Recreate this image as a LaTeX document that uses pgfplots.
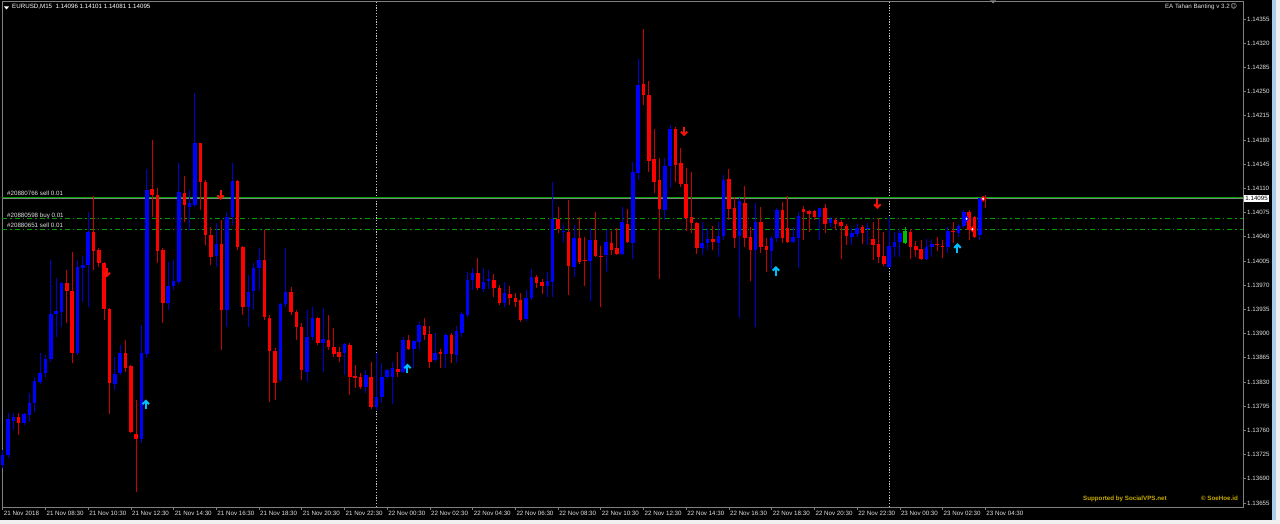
\documentclass[border=0pt]{standalone}
\usepackage{pgfplots}
\pgfplotsset{compat=1.18}
\usepackage{pgfplotstable}
\usepackage{fontspec}
\setmainfont{Liberation Sans}
\newfontfamily\djv{DejaVu Sans}

\definecolor{upc}{RGB}{0,0,255}
\definecolor{dnc}{RGB}{255,0,0}
\definecolor{upw}{RGB}{0,0,210}
\definecolor{dnw}{RGB}{205,0,0}
\definecolor{grc}{RGB}{0,190,0}
\definecolor{frame}{RGB}{128,128,128}
\definecolor{ordg}{RGB}{0,160,0}
\definecolor{sigred}{RGB}{240,20,10}
\definecolor{sigcyan}{RGB}{0,190,255}
\definecolor{lbl}{RGB}{225,225,225}
\definecolor{gold}{RGB}{200,170,0}
\definecolor{sepc}{RGB}{200,200,200}
\definecolor{edgeblue}{RGB}{170,205,235}
\definecolor{edgegray}{RGB}{240,240,240}

\newcommand\mt{\fontsize{6.2pt}{7pt}\selectfont}

% M15 candles, 21 Nov 06:30 ... 23 Nov 04:30; k: 1 up, -1 down, 0 odd green one
\pgfplotstableread{
i k o h l c
0 1 1.13710 1.13732 1.13706 1.13724
1 1 1.13724 1.13785 1.13720 1.13776
2 1 1.13774 1.13785 1.13761 1.13779
3 -1 1.13779 1.13785 1.13753 1.13771
4 1 1.13771 1.13785 1.13768 1.13784
5 1 1.13782 1.13814 1.13772 1.13800
6 1 1.13800 1.13837 1.13787 1.13831
7 1 1.13830 1.13872 1.13827 1.13843
8 1 1.13843 1.13869 1.13837 1.13863
9 1 1.13863 1.14006 1.13859 1.13928
10 1 1.13928 1.13980 1.13895 1.13933
11 1 1.13931 1.13975 1.13910 1.13973
12 -1 1.13973 1.13992 1.13915 1.13962
13 -1 1.13962 1.14018 1.13857 1.13872
14 1 1.13872 1.14006 1.13869 1.13996
15 1 1.13995 1.14012 1.13946 1.13999
16 1 1.13999 1.14076 1.13938 1.14047
17 -1 1.14047 1.14099 1.13992 1.14019
18 -1 1.14021 1.14024 1.13996 1.14002
19 -1 1.14002 1.14004 1.13920 1.13936
20 -1 1.13936 1.13937 1.13784 1.13829
21 1 1.13827 1.13866 1.13818 1.13842
22 1 1.13843 1.13884 1.13840 1.13872
23 -1 1.13872 1.13891 1.13844 1.13850
24 -1 1.13853 1.13855 1.13756 1.13758
25 -1 1.13755 1.13804 1.13671 1.13748
26 1 1.13748 1.13912 1.13742 1.13872
27 1 1.13871 1.14138 1.13865 1.14108
28 -1 1.14109 1.14180 1.14069 1.14100
29 -1 1.14100 1.14111 1.14002 1.14019
30 -1 1.14021 1.14024 1.13915 1.13944
31 1 1.13944 1.14004 1.13934 1.13969
32 1 1.13969 1.14006 1.13963 1.13976
33 1 1.13975 1.14147 1.13972 1.14105
34 -1 1.14103 1.14128 1.14061 1.14086
35 1 1.14083 1.14108 1.14050 1.14089
36 1 1.14086 1.14248 1.14083 1.14176
37 -1 1.14176 1.14176 1.14079 1.14119
38 -1 1.14119 1.14122 1.14028 1.14043
39 -1 1.14043 1.14054 1.13999 1.14011
40 1 1.14012 1.14060 1.13996 1.14030
41 -1 1.14030 1.14064 1.13876 1.13934
42 1 1.13934 1.14076 1.13910 1.14069
43 1 1.14069 1.14147 1.14057 1.14121
44 -1 1.14121 1.14122 1.14021 1.14025
45 -1 1.14025 1.14027 1.13927 1.13938
46 1 1.13938 1.13985 1.13910 1.13960
47 1 1.13962 1.14002 1.13934 1.13995
48 1 1.13995 1.14024 1.13963 1.14006
49 -1 1.14006 1.14050 1.13920 1.13924
50 -1 1.13923 1.13927 1.13801 1.13875
51 -1 1.13875 1.13879 1.13804 1.13829
52 1 1.13833 1.13944 1.13830 1.13943
53 1 1.13943 1.14024 1.13938 1.13960
54 -1 1.13960 1.13967 1.13927 1.13931
55 -1 1.13931 1.13934 1.13891 1.13910
56 -1 1.13910 1.13915 1.13833 1.13847
57 1 1.13844 1.13934 1.13830 1.13895
58 1 1.13895 1.13938 1.13891 1.13923
59 -1 1.13923 1.13924 1.13884 1.13886
60 1 1.13886 1.13937 1.13844 1.13892
61 -1 1.13891 1.13927 1.13876 1.13881
62 -1 1.13881 1.13908 1.13866 1.13871
63 -1 1.13873 1.13881 1.13859 1.13866
64 1 1.13872 1.13886 1.13840 1.13885
65 -1 1.13884 1.13886 1.13811 1.13837
66 -1 1.13839 1.13855 1.13821 1.13836
67 -1 1.13837 1.13843 1.13820 1.13823
68 1 1.13823 1.13847 1.13814 1.13840
69 -1 1.13837 1.13859 1.13791 1.13794
70 1 1.13794 1.13872 1.13790 1.13808
71 1 1.13808 1.13857 1.13800 1.13837
72 1 1.13837 1.13849 1.13834 1.13847
73 1 1.13837 1.13859 1.13798 1.13850
74 -1 1.13849 1.13873 1.13837 1.13844
75 1 1.13844 1.13895 1.13843 1.13891
76 -1 1.13891 1.13898 1.13876 1.13878
77 1 1.13878 1.13891 1.13850 1.13889
78 1 1.13888 1.13917 1.13876 1.13912
79 -1 1.13911 1.13923 1.13891 1.13898
80 -1 1.13899 1.13911 1.13850 1.13859
81 1 1.13862 1.13901 1.13859 1.13872
82 -1 1.13873 1.13878 1.13850 1.13871
83 1 1.13871 1.13901 1.13850 1.13898
84 -1 1.13898 1.13901 1.13857 1.13871
85 1 1.13869 1.13911 1.13857 1.13904
86 1 1.13901 1.13931 1.13895 1.13928
87 1 1.13927 1.13989 1.13924 1.13978
88 1 1.13978 1.13995 1.13963 1.13988
89 -1 1.13988 1.14009 1.13963 1.13966
90 1 1.13965 1.13995 1.13960 1.13975
91 1 1.13976 1.13992 1.13965 1.13979
92 -1 1.13978 1.13986 1.13953 1.13966
93 -1 1.13966 1.13970 1.13941 1.13944
94 1 1.13944 1.13975 1.13938 1.13959
95 -1 1.13957 1.13969 1.13941 1.13951
96 -1 1.13951 1.13959 1.13938 1.13946
97 -1 1.13949 1.13959 1.13917 1.13920
98 1 1.13921 1.13963 1.13918 1.13951
99 1 1.13951 1.13993 1.13949 1.13982
100 -1 1.13982 1.13985 1.13966 1.13973
101 -1 1.13975 1.13979 1.13957 1.13969
102 1 1.13969 1.13989 1.13953 1.13976
103 1 1.13975 1.14119 1.13953 1.14066
104 -1 1.14066 1.14083 1.14046 1.14051
105 1 1.14047 1.14057 1.14033 1.14048
106 -1 1.14047 1.14093 1.13956 1.13998
107 1 1.13996 1.14057 1.13982 1.14038
108 -1 1.14038 1.14069 1.14001 1.14004
109 -1 1.14005 1.14040 1.13969 1.14004
110 1 1.14005 1.14053 1.13947 1.14035
111 -1 1.14035 1.14076 1.14011 1.14012
112 -1 1.14012 1.14027 1.13938 1.14011
113 1 1.14014 1.14050 1.13989 1.14033
114 -1 1.14031 1.14048 1.14014 1.14021
115 -1 1.14024 1.14053 1.14014 1.14015
116 1 1.14015 1.14083 1.14014 1.14061
117 -1 1.14059 1.14080 1.14031 1.14033
118 1 1.14031 1.14148 1.14008 1.14134
119 1 1.14132 1.14297 1.14122 1.14260
120 -1 1.14261 1.14341 1.14231 1.14245
121 -1 1.14245 1.14265 1.14134 1.14150
122 -1 1.14153 1.14196 1.14103 1.14119
123 -1 1.14122 1.14154 1.13979 1.14080
124 1 1.14079 1.14154 1.14064 1.14142
125 1 1.14142 1.14202 1.14111 1.14196
126 -1 1.14196 1.14199 1.14119 1.14144
127 -1 1.14147 1.14168 1.14112 1.14116
128 -1 1.14116 1.14140 1.14048 1.14067
129 -1 1.14069 1.14134 1.14046 1.14060
130 -1 1.14060 1.14061 1.14015 1.14024
131 1 1.14024 1.14061 1.14014 1.14031
132 1 1.14031 1.14053 1.14021 1.14037
133 -1 1.14037 1.14056 1.14021 1.14033
134 1 1.14031 1.14061 1.14011 1.14041
135 1 1.14041 1.14129 1.14035 1.14122
136 -1 1.14124 1.14138 1.14064 1.14080
137 -1 1.14082 1.14098 1.14024 1.14038
138 1 1.14041 1.14096 1.13923 1.14092
139 -1 1.14089 1.14113 1.14025 1.14038
140 -1 1.14040 1.14054 1.13976 1.14021
141 1 1.14021 1.14089 1.13910 1.14061
142 -1 1.14061 1.14083 1.14017 1.14025
143 -1 1.14027 1.14038 1.13989 1.14021
144 1 1.14019 1.14041 1.13993 1.14038
145 1 1.14038 1.14082 1.14033 1.14079
146 -1 1.14079 1.14090 1.14031 1.14038
147 -1 1.14053 1.14099 1.14031 1.14033
148 1 1.14033 1.14054 1.14031 1.14040
149 1 1.14038 1.14076 1.13995 1.14070
150 -1 1.14080 1.14085 1.14035 1.14076
151 -1 1.14077 1.14079 1.14047 1.14073
152 -1 1.14077 1.14079 1.14064 1.14069
153 1 1.14069 1.14082 1.14035 1.14082
154 -1 1.14082 1.14087 1.14046 1.14059
155 1 1.14060 1.14069 1.14054 1.14066
156 -1 1.14064 1.14067 1.14050 1.14059
157 -1 1.14061 1.14064 1.14008 1.14056
158 -1 1.14056 1.14059 1.14028 1.14041
159 1 1.14040 1.14053 1.14028 1.14046
160 1 1.14044 1.14059 1.14040 1.14053
161 -1 1.14054 1.14057 1.14030 1.14046
162 1 1.14051 1.14060 1.14028 1.14053
163 -1 1.14037 1.14061 1.14006 1.14028
164 -1 1.14030 1.14067 1.14002 1.14011
165 -1 1.14012 1.14047 1.13998 1.14001
166 1 1.13996 1.14069 1.13995 1.14027
167 1 1.14025 1.14047 1.14011 1.14032
168 1 1.14032 1.14050 1.14011 1.14046
169 0 1.14031 1.14054 1.14030 1.14048
170 -1 1.14047 1.14051 1.14008 1.14025
171 -1 1.14027 1.14034 1.14011 1.14021
172 -1 1.14022 1.14035 1.14006 1.14008
173 1 1.14008 1.14037 1.14006 1.14025
174 1 1.14025 1.14037 1.14011 1.14030
175 -1 1.14028 1.14040 1.14019 1.14027
176 -1 1.14027 1.14035 1.14009 1.14025
177 1 1.14025 1.14054 1.14017 1.14048
178 -1 1.14048 1.14061 1.14031 1.14047
179 1 1.14046 1.14059 1.14040 1.14056
180 1 1.14056 1.14079 1.14053 1.14076
181 -1 1.14076 1.14079 1.14035 1.14050
182 -1 1.14069 1.14070 1.14038 1.14040
183 1 1.14043 1.14096 1.14035 1.14096
184 -1 1.14096 1.14101 1.14081 1.14095
}\candles

% signal arrows
\pgfdeclareplotmark{sigdown}{%
  \pgfsetlinewidth{2pt}\pgfsetmiterjoin
  \pgfpathmoveto{\pgfqpoint{0pt}{5pt}}\pgfpathlineto{\pgfqpoint{0pt}{-3.5pt}}\pgfusepathqstroke
  \pgfpathmoveto{\pgfqpoint{-3.2pt}{0pt}}\pgfpathlineto{\pgfqpoint{0pt}{-3.2pt}}%
  \pgfpathlineto{\pgfqpoint{3.2pt}{0pt}}\pgfusepathqstroke}
\pgfdeclareplotmark{sigup}{%
  \pgfsetlinewidth{2pt}\pgfsetmiterjoin
  \pgfpathmoveto{\pgfqpoint{0pt}{-5pt}}\pgfpathlineto{\pgfqpoint{0pt}{3.5pt}}\pgfusepathqstroke
  \pgfpathmoveto{\pgfqpoint{-3.2pt}{0pt}}\pgfpathlineto{\pgfqpoint{0pt}{3.2pt}}%
  \pgfpathlineto{\pgfqpoint{3.2pt}{0pt}}\pgfusepathqstroke}

\pgfplotsset{
  kind/.style={x filter/.expression={\thisrow{k}==#1 ? x : nan}},
  wick/.style={draw=none, forget plot, error bars/.cd, y dir=plus, y explicit,
    error mark=none, error bar style={line width=1pt, draw=#1}},
  body/.style={draw=none, forget plot, error bars/.cd, y dir=plus, y explicit,
    error mark=none, error bar style={line width=3.5pt, draw=#1}},
}

\begin{document}
\begin{tikzpicture}
\useasboundingbox (0,0) rectangle (1280pt,524pt);
\fill[black] (0,0) rectangle (1280pt,524pt);

\begin{axis}[
  at={(2pt,17pt)}, anchor=south west,
  scale only axis, width=1241pt, height=506pt,
  xmin=-0.13, xmax=232.27,
  ymin=1.136492, ymax=1.14381,
  clip=false,
  axis line style={draw=frame, line width=0.8pt},
  tick style={draw=frame, line width=0.6pt},
  tick align=outside, major tick length=3pt,
  xtick pos=bottom, ytick pos=right, yticklabel pos=right,
  scaled y ticks=false,
  ticklabel style={font=\mt, text=lbl},
  xtick={0,8,...,184},
  xticklabels={21 Nov 2018,21 Nov 08:30,21 Nov 10:30,21 Nov 12:30,21 Nov 14:30,21 Nov 16:30,
    21 Nov 18:30,21 Nov 20:30,21 Nov 22:30,22 Nov 00:30,22 Nov 02:30,22 Nov 04:30,
    22 Nov 06:30,22 Nov 08:30,22 Nov 10:30,22 Nov 12:30,22 Nov 14:30,22 Nov 16:30,
    22 Nov 18:30,22 Nov 20:30,22 Nov 22:30,23 Nov 00:30,23 Nov 02:30,23 Nov 04:30},
  xticklabel style={anchor=north west, inner sep=0.5pt, xshift=0.5pt},
  ytick={1.13655,1.13690,1.13725,1.13760,1.13795,1.13830,1.13865,1.13900,1.13935,1.13970,
    1.14005,1.14040,1.14075,1.14110,1.14145,1.14180,1.14215,1.14250,1.14285,1.14320,1.14355},
  yticklabels={1.13655,1.13690,1.13725,1.13760,1.13795,1.13830,1.13865,1.13900,1.13935,1.13970,
    1.14005,1.14040,1.14075,1.14110,1.14145,1.14180,1.14215,1.14250,1.14285,1.14320,1.14355},
  yticklabel style={inner sep=1pt},
]
% day separators
\addplot[draw=sepc, line width=1pt, dash pattern=on 1.2pt off 1.6pt]
  coordinates {(70,1.136492) (70,1.14381)};
\addplot[draw=sepc, line width=1pt, dash pattern=on 1.2pt off 1.6pt]
  coordinates {(166,1.136492) (166,1.14381)};

% order lines and bid line
\addplot[draw=ordg, line width=1pt] coordinates {(-0.13,1.14097) (232.27,1.14097)};
\addplot[draw=frame, line width=1pt] coordinates {(-0.13,1.14095) (232.27,1.14095)};
\addplot[draw=ordg, line width=1pt, dash pattern=on 5pt off 3pt on 1.5pt off 3pt]
  coordinates {(-0.13,1.14066) (232.27,1.14066)};
\addplot[draw=ordg, line width=1pt, dash pattern=on 5pt off 3pt on 1.5pt off 3pt]
  coordinates {(-0.13,1.14051) (232.27,1.14051)};

% wicks, then bodies
\addplot[kind=1, wick=upw] table[x=i, y=l, y error expr=\thisrow{h}-\thisrow{l}] {\candles};
\addplot[kind=-1, wick=dnw] table[x=i, y=l, y error expr=\thisrow{h}-\thisrow{l}] {\candles};
\addplot[kind=0, wick=grc] table[x=i, y=l, y error expr=\thisrow{h}-\thisrow{l}] {\candles};
\addplot[kind=1, body=upc] table[x=i, y expr={min(\thisrow{o},\thisrow{c})},
  y error expr={abs(\thisrow{c}-\thisrow{o})}] {\candles};
\addplot[kind=-1, body=dnc] table[x=i, y expr={min(\thisrow{o},\thisrow{c})},
  y error expr={abs(\thisrow{c}-\thisrow{o})}] {\candles};
\addplot[kind=0, body=grc] table[x=i, y expr={min(\thisrow{o},\thisrow{c})},
  y error expr={abs(\thisrow{c}-\thisrow{o})}] {\candles};

% EA signals
\addplot[only marks, mark=sigdown, color=sigred]
  coordinates {(19.5,1.13988) (40.8,1.14100) (127.6,1.14192) (163.8,1.14087)};
\addplot[only marks, mark=sigup, color=sigcyan]
  coordinates {(26.8,1.13798) (75.8,1.13850) (144.8,1.13991) (178.8,1.14024)};

% open order markers
\addplot[only marks, mark=diamond*, mark size=2.4pt,
  mark options={fill=white, draw=red, line width=0.9pt}]
  coordinates {(181.6,1.14051) (183.6,1.14095)};
\addplot[only marks, mark=diamond*, mark size=2.4pt,
  mark options={fill=white, draw=blue, line width=0.9pt}]
  coordinates {(180.5,1.14066)};

\node[anchor=base west, inner sep=0, font=\mt, text=lbl, yshift=1.6pt]
  at (axis cs:0.8,1.14097) {\#20880766 sell 0.01};
\node[anchor=base west, inner sep=0, font=\mt, text=lbl, yshift=1.4pt]
  at (axis cs:0.8,1.14066) {\#20880598 buy 0.01};
\node[anchor=base west, inner sep=0, font=\mt, text=lbl, yshift=1.4pt]
  at (axis cs:0.8,1.14051) {\#20880651 sell 0.01};

\node[anchor=west, fill=white, text=black, font=\mt, inner sep=1.2pt, xshift=1pt]
  at (axis cs:232.27,1.14095) {1.14095};
\end{axis}

% header, footer, window edges
\fill[white] (4pt,517.5pt) -- (9pt,517.5pt) -- (6.5pt,514.5pt) -- cycle;
\node[anchor=base west, inner sep=0, font=\mt, text=white] at (12pt,515.5pt)
  {EURUSD,M15\ \ 1.14096 1.14101 1.14081 1.14095};
\fill[frame] (990pt,523.5pt) -- (996pt,523.5pt) -- (993pt,520.5pt) -- cycle;
\node[anchor=base east, inner sep=0, font=\mt, text=lbl] at (1230pt,515.5pt)
  {EA Tahan Banting v 3.2};
\node[anchor=base west, inner sep=0, font=\mt, text=lbl] at (1230.5pt,515.3pt) {\djv ☺};
\node[anchor=base west, inner sep=0, font=\mt\bfseries, text=gold] at (1083pt,23pt)
  {Supported by SocialVPS.net};
\node[anchor=base east, inner sep=0, font=\mt\bfseries, text=gold] at (1238pt,23pt)
  {© SoeHoe.id};
\fill[edgeblue] (1271.5pt,4pt) rectangle (1276pt,524pt);
\fill[edgegray] (1276pt,0pt) rectangle (1280pt,524pt);
\fill[edgegray] (0pt,0pt) rectangle (1280pt,4pt);
\end{tikzpicture}
\end{document}
